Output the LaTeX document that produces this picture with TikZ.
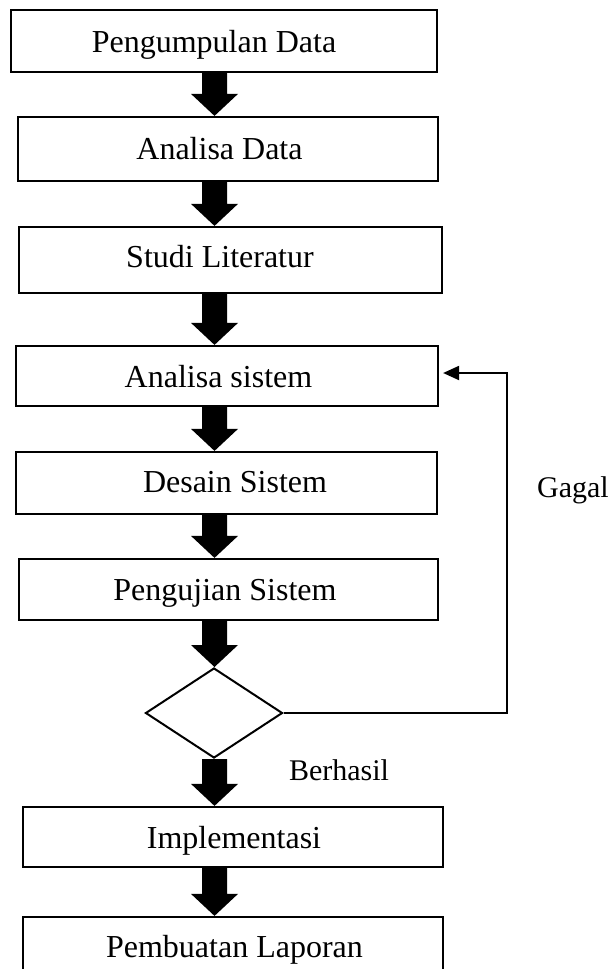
\documentclass[tikz,border=0pt]{standalone}
\usepackage{fontspec}
\setmainfont{Liberation Serif}
\usetikzlibrary{calc,shapes.geometric,arrows.meta}

% thick block arrow drawn as a filled polygon between two points
\newcommand\blockarrow[2]{%
  \fill let \p1=(#1), \p2=(#2) in
    (\x1-12.5pt,\y1) -- (\x1-12.5pt,\y2+22pt) -- (\x1-23.5pt,\y2+22pt) --
    (\x1,\y2) -- (\x1+23.5pt,\y2+22pt) -- (\x1+12.5pt,\y2+22pt) --
    (\x1+12.5pt,\y1) -- cycle;}

\begin{document}
\begin{tikzpicture}[x=1pt,y=-1pt,
  box/.style={draw, line width=2.2pt, inner sep=0pt, rectangle},
  lbl/.style={inner sep=0pt, anchor=base, font=\fontsize{32}{38}\selectfont},
  side/.style={inner sep=0pt, anchor=base, font=\fontsize{30}{36}\selectfont},
  loopline/.style={line width=2pt, -{Triangle[length=16pt,width=14pt]}}]
\useasboundingbox[fill=white] (0,0) rectangle (611,969);

% process boxes
\node[box, minimum width=426pt, minimum height=62pt] (b1) at (224,41) {};
\node[box, minimum width=420pt, minimum height=64pt] (b2) at (228,149) {};
\node[box, minimum width=423pt, minimum height=66pt] (b3) at (230.5,260) {};
\node[box, minimum width=422pt, minimum height=60pt] (b4) at (227,376) {};
\node[box, minimum width=421pt, minimum height=62pt] (b5) at (226.5,483) {};
\node[box, minimum width=419pt, minimum height=61pt] (b6) at (228.5,589.5) {};
\node[draw, diamond, line width=2pt, inner sep=0pt,
      minimum width=137pt, minimum height=90pt] (d) at (214,713) {};
\node[box, minimum width=420pt, minimum height=60pt] (b7) at (233,837) {};
\node[box, minimum width=420pt, minimum height=62pt] (b8) at (233,948) {};

% box labels
\node[lbl] (t1) at (214,52) {Pengumpulan Data};
\node[lbl] (t2) at (219.5,159) {Analisa Data};
\node[lbl] (t3) at (220,267) {Studi Literatur};
\node[lbl] (t4) at (218.5,387) {Analisa sistem};
\node[lbl] (t5) at (235,492) {Desain Sistem};
\node[lbl] (t6) at (225,600) {Pengujian Sistem};
\node[lbl] (t7) at (234,848) {Implementasi};
\node[lbl] (t8) at (234.5,957) {Pembuatan Laporan};

% branch labels
\node[side] (gagal) at (573,497) {Gagal};
\node[side] (berhasil) at (339,780) {Berhasil};

% main flow
\coordinate (spine) at (214.5,0);
\blockarrow{b1.south -| spine}{b2.north -| spine}
\blockarrow{b2.south -| spine}{b3.north -| spine}
\blockarrow{b3.south -| spine}{b4.north -| spine}
\blockarrow{b4.south -| spine}{b5.north -| spine}
\blockarrow{b5.south -| spine}{b6.north -| spine}
\blockarrow{b6.south -| spine}{d.north -| spine}
\blockarrow{d.south -| spine}{b7.north -| spine}
\blockarrow{b7.south -| spine}{b8.north -| spine}

% failure loop back to system analysis
\draw[loopline] (d.east) -- ++(223.5,0) |- ([xshift=4pt,yshift=3pt]b4.east);
\end{tikzpicture}
\end{document}
